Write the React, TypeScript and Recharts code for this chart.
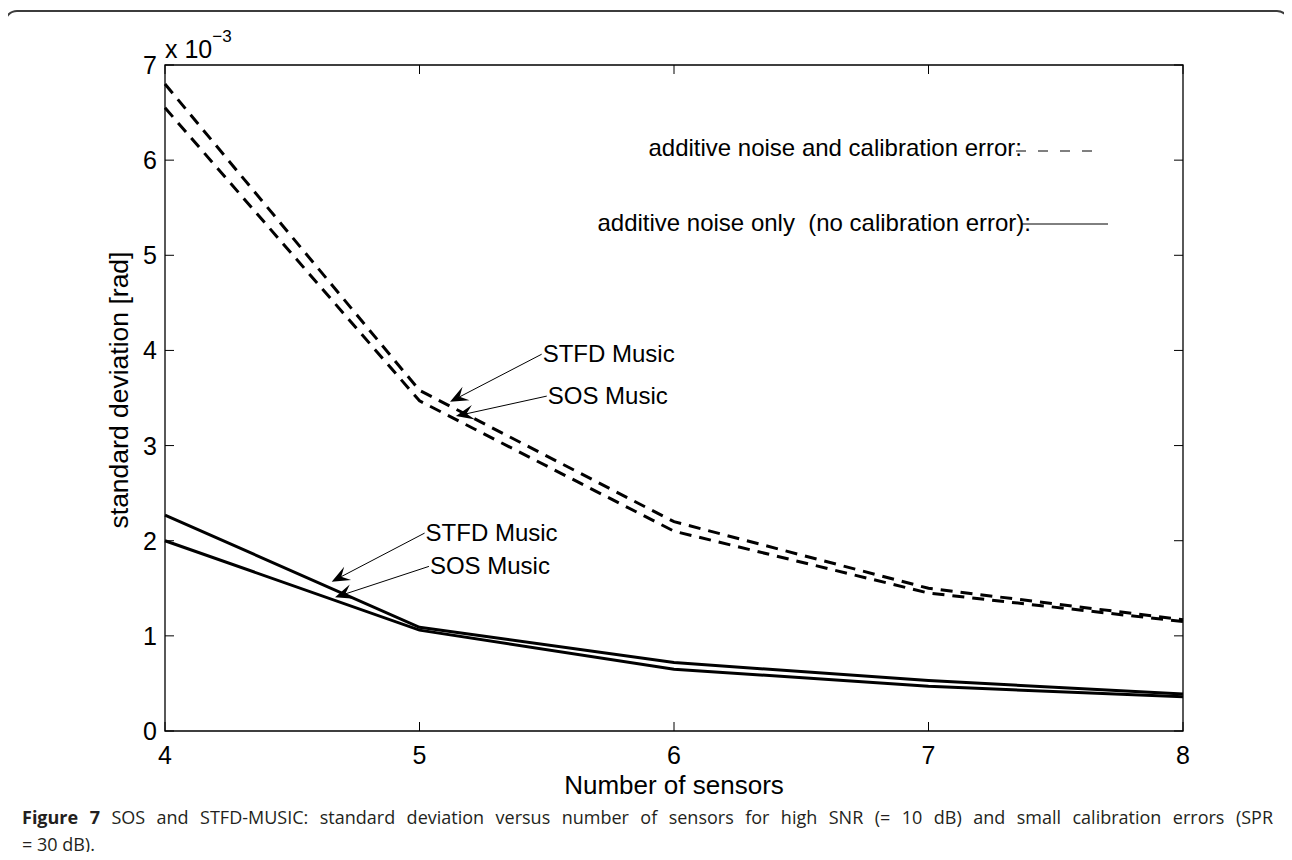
import React from 'react';
import { LineChart, Line, XAxis, YAxis, ReferenceArea, ReferenceLine } from 'recharts';

// number of sensors
const sensors = [4, 5, 6, 7, 8];
// std dev in units of 1e-3 rad
const stfdWithCal = [6.8, 3.58, 2.2, 1.5, 1.17];
const sosWithCal = [6.55, 3.47, 2.1, 1.45, 1.15];
const stfdNoiseOnly = [2.27, 1.09, 0.72, 0.53, 0.39];
const sosNoiseOnly = [2.0, 1.06, 0.65, 0.47, 0.36];

const xTicks = [4, 5, 6, 7, 8];
const yTicks = [0, 1, 2, 3, 4, 5, 6, 7];

// arrow annotations: from = text end of the arrow, to = arrow tip (data coords)
const annotations = [
  { text: 'STFD Music', from: [5.48, 3.96], to: [5.12, 3.46] },
  { text: 'SOS Music', from: [5.5, 3.52], to: [5.143, 3.31] },
  { text: 'STFD Music', from: [5.02, 2.08], to: [4.655, 1.57] },
  { text: 'SOS Music', from: [5.037, 1.73], to: [4.668, 1.405] },
];

const data = sensors.map((n, i) => ({
  n,
  stfdCal: stfdWithCal[i],
  sosCal: sosWithCal[i],
  stfdNoise: stfdNoiseOnly[i],
  sosNoise: sosNoiseOnly[i],
}));

const PLOT = { left: 165, top: 65, right: 1183, bottom: 731 };
const FONT = '"Liberation Sans", Arial, sans-serif';

const XTick = (props: any) => {
  const { x, payload } = props;
  return (
    <g>
      <line x1={x} x2={x} y1={PLOT.bottom} y2={PLOT.bottom - 9} stroke="#000" />
      <line x1={x} x2={x} y1={PLOT.top} y2={PLOT.top + 9} stroke="#000" />
      <text x={x} y={PLOT.bottom + 33} textAnchor="middle" fontSize={25} fontFamily={FONT} fill="#000">
        {payload.value}
      </text>
    </g>
  );
};

const YTick = (props: any) => {
  const { y, payload } = props;
  return (
    <g>
      <line x1={PLOT.left} x2={PLOT.left + 9} y1={y} y2={y} stroke="#000" />
      <line x1={PLOT.right - 9} x2={PLOT.right} y1={y} y2={y} stroke="#000" />
      <text x={PLOT.left - 8} y={y + 9} textAnchor="end" fontSize={25} fontFamily={FONT} fill="#000">
        {payload.value}
      </text>
    </g>
  );
};

const arrowShape = (text: string) => (props: any) => {
  const { x1, y1, x2, y2 } = props;
  const dx = x1 - x2;
  const dy = y1 - y2;
  const len = Math.sqrt(dx * dx + dy * dy) || 1;
  const ux = dx / len;
  const uy = dy / len;
  const L = 18;
  const W = 7.5;
  const bx = x2 + ux * L;
  const by = y2 + uy * L;
  const nx = x2 + ux * L * 0.6;
  const ny = y2 + uy * L * 0.6;
  const pts = [
    [x2, y2],
    [bx - uy * W, by + ux * W],
    [nx, ny],
    [bx + uy * W, by - ux * W],
  ]
    .map((p) => p.join(','))
    .join(' ');
  return (
    <g>
      <line x1={x1} y1={y1} x2={nx} y2={ny} stroke="#000" strokeWidth={1} />
      <polygon points={pts} fill="#000" />
      <text x={x1 + 1} y={y1 + 8} fontSize={24} fontFamily={FONT} fill="#000">
        {text}
      </text>
    </g>
  );
};

export default function App() {
  return (
    <div
      style={{
        position: 'relative',
        width: 1292,
        height: 860,
        margin: -8,
        overflow: 'hidden',
        background: '#fff',
      }}
    >
      <svg width={1292} height={860} style={{ position: 'absolute', left: 0, top: 0 }}>
        <rect x={5} y={11} width={1284} height={1000} rx={12} ry={12} fill="none" stroke="#3c3c3c" strokeWidth={2} />
      </svg>
      <div style={{ position: 'absolute', left: 0, top: 0 }}>
        <LineChart width={1292} height={800} data={data} margin={{ top: 65, right: 109, bottom: 0, left: 0 }}>
          <XAxis
            dataKey="n"
            type="number"
            domain={[4, 8]}
            ticks={xTicks}
            height={69}
            axisLine={false}
            tickLine={false}
            tick={<XTick />}
            interval={0}
          />
          <YAxis
            type="number"
            domain={[0, 7]}
            ticks={yTicks}
            width={165}
            axisLine={false}
            tickLine={false}
            tick={<YTick />}
            interval={0}
          />
          <ReferenceArea x1={4} x2={8} y1={0} y2={7} fill="none" stroke="#000" strokeWidth={1.3} />
          <Line dataKey="stfdCal" stroke="#000" strokeWidth={3} strokeDasharray="12 8" dot={false} isAnimationActive={false} />
          <Line dataKey="sosCal" stroke="#000" strokeWidth={3} strokeDasharray="12 8" dot={false} isAnimationActive={false} />
          <Line dataKey="stfdNoise" stroke="#000" strokeWidth={3} dot={false} isAnimationActive={false} />
          <Line dataKey="sosNoise" stroke="#000" strokeWidth={3} dot={false} isAnimationActive={false} />
          {annotations.map((a, i) => (
            <ReferenceLine
              key={i}
              segment={[
                { x: a.from[0], y: a.from[1] },
                { x: a.to[0], y: a.to[1] },
              ]}
              shape={arrowShape(a.text)}
            />
          ))}
        </LineChart>
      </div>
      <svg width={1292} height={800} style={{ position: 'absolute', left: 0, top: 0, pointerEvents: 'none' }}>
        <text x={165} y={58} fontSize={25} fontFamily={FONT} fill="#000">
          x 10
          <tspan dy={-16} fontSize={17}>
            −3
          </tspan>
        </text>
        {/* axis titles */}
        <text
          x={119}
          y={399}
          transform="rotate(-90, 119, 390)"
          textAnchor="middle"
          fontSize={26.5}
          fontFamily={FONT}
          fill="#000"
        >
          standard deviation [rad]
        </text>
        <text x={674} y={794} textAnchor="middle" fontSize={26} fontFamily={FONT} fill="#000">
          Number of sensors
        </text>
        {/* legend */}
        <text x={1022} y={156} textAnchor="end" fontSize={24} fontFamily={FONT} fill="#000">
          additive noise and calibration error:
        </text>
        <line x1={1016} x2={1100} y1={151} y2={151} stroke="#000" strokeWidth={1} strokeDasharray="10 12" />
        <text
          x={1031}
          y={231}
          textAnchor="end"
          fontSize={24}
          fontFamily={FONT}
          fill="#000"
          style={{ whiteSpace: 'pre' }}
        >
          {'additive noise only  (no calibration error):'}
        </text>
        <line x1={1022} x2={1108} y1={224} y2={224} stroke="#000" strokeWidth={1} />
      </svg>
      <div
        style={{
          position: 'absolute',
          left: 22,
          top: 804,
          width: 1251,
          fontFamily: '"Open Sans", "Noto Sans", sans-serif',
          fontSize: 18,
          lineHeight: '27px',
          color: '#231f20',
        }}
      >
        <div style={{ textAlign: 'justify', textAlignLast: 'justify', whiteSpace: 'nowrap' as any }}>
          <b>Figure 7</b> SOS and STFD-MUSIC: standard deviation versus number of sensors for high SNR (= 10 dB) and small
          calibration errors (SPR
        </div>
        <div>= 30 dB).</div>
      </div>
    </div>
  );
}
